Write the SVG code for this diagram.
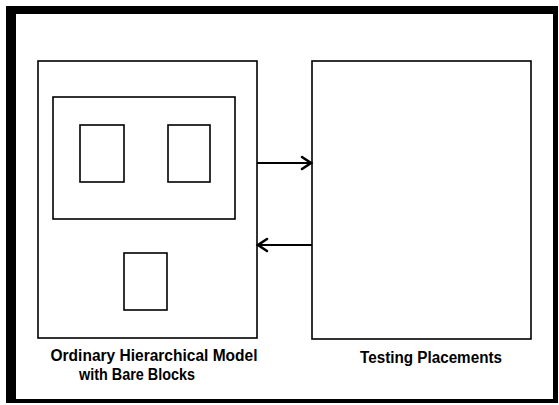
<svg xmlns="http://www.w3.org/2000/svg" width="559" height="405" viewBox="0 0 559 405">
<style>
.box{fill:none;stroke:#000;stroke-width:1.6}
.lbl{font-family:"Liberation Sans",Arial,sans-serif;font-weight:bold;font-size:16px;fill:#000}
.conn{fill:none;stroke:#000;stroke-width:2}
.head{fill:none;stroke:#000;stroke-width:2.6;stroke-linecap:round;stroke-linejoin:miter}
</style>
<rect width="559" height="405" fill="#fff"/>
<path d="M6 6H558V403H6Z M16 14V399H553V14Z" fill="#000" fill-rule="evenodd"/>
<g id="model">
<rect class="box" x="38" y="61" width="219" height="277"/>
<text class="lbl" x="154" y="361" text-anchor="middle" textLength="207" lengthAdjust="spacingAndGlyphs">Ordinary Hierarchical Model</text>
<text class="lbl" x="137" y="380" text-anchor="middle" textLength="116" lengthAdjust="spacingAndGlyphs">with Bare Blocks</text>
</g>
<g id="hier">
<rect class="box" x="53" y="97" width="182" height="122"/>
</g>
<g id="block1"><rect class="box" x="80" y="125" width="44" height="57"/></g>
<g id="block2"><rect class="box" x="168" y="125" width="42" height="57"/></g>
<g id="block3"><rect class="box" x="124" y="253" width="43" height="57"/></g>
<g id="testing">
<rect class="box" x="312" y="61" width="219" height="278"/>
<text class="lbl" x="431" y="363" text-anchor="middle" textLength="142" lengthAdjust="spacingAndGlyphs">Testing Placements</text>
</g>
<g id="connectors">
<line class="conn" x1="257" y1="163" x2="311" y2="163"/>
<path class="head" d="M302 157L311 163L302 169"/>
<line class="conn" x1="312" y1="245" x2="258" y2="245"/>
<path class="head" d="M267 239L258 245L267 251"/>
</g>
</svg>
